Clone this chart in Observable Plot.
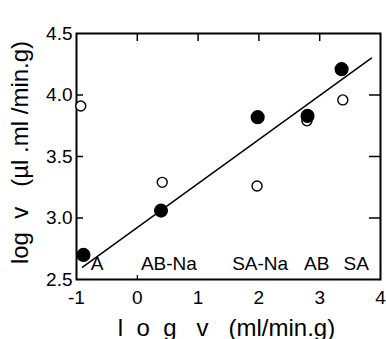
<!DOCTYPE html>
<html>
<head>
<meta charset="utf-8">
<script src="https://cdn.jsdelivr.net/npm/d3@7"></script>
<script src="https://cdn.jsdelivr.net/npm/@observablehq/plot@0.6"></script>
<style>
  body { margin: 0; background: #fff; }
  svg { background: #fff; }
</style>
</head>
<body>
<div id="chart"></div>
<script>
// Filled circles
const filledX = [-0.885, 0.39, 1.98, 2.80, 3.36];
const filledY = [2.70, 3.06, 3.82, 3.83, 4.21];
// Open circles
const openX = [-0.93, 0.41, 1.97, 2.79, 3.38];
const openY = [3.91, 3.29, 3.26, 3.79, 3.96];
// Regression line endpoints
const fitX = [-0.9, 3.85];
const fitY = [2.60, 4.30];
// Compound labels
const compounds = ["A", "AB-Na", "SA-Na", "AB", "SA"];
const compoundX = [-0.66, 0.52, 2.02, 2.95, 3.6];
// Tick labels
const xTicks = [-1, 0, 1, 2, 3, 4];
const yTicks = [2.5, 3.0, 3.5, 4.0, 4.5];
const xLabel = "l\u00a0\u00a0o\u00a0\u00a0g\u00a0\u00a0\u00a0v\u00a0\u00a0\u00a0(ml/min.g)";
const yLabel = "log\u00a0\u00a0v\u00a0\u00a0\u00a0(\u00b5l\u00a0.ml\u00a0/min.g)";

const filled = filledX.map((x, i) => ({x, y: filledY[i]}));
const open = openX.map((x, i) => ({x, y: openY[i]}));
const fit = fitX.map((x, i) => ({x, y: fitY[i]}));
const labels = compounds.map((t, i) => ({t, x: compoundX[i]}));

const W = 386, H = 339, mL = 76, mR = 6, mT = 33, mB = 60;
const pw = W - mL - mR, ph = H - mT - mB;

const chart = Plot.plot({
  width: W, height: H,
  marginLeft: mL, marginRight: mR, marginTop: mT, marginBottom: mB,
  style: {fontFamily: "'Liberation Sans', Arial, sans-serif", color: "#000", background: "#fff"},
  x: {domain: [-1, 4]},
  y: {domain: [2.5, 4.5]},
  marks: [
    Plot.axisX({ticks: xTicks, tickSize: 0, tickPadding: 11, fontSize: 19, label: null, tickFormat: d => d < 0 ? "-" + Math.abs(d) : String(d)}),
    Plot.axisY({ticks: yTicks, tickSize: 0, tickPadding: 4, fontSize: 19, label: null, tickFormat: d => d.toFixed(1)}),
    // inward ticks
    Plot.tickY(yTicks.slice(1, 4), {y: d => d, insetRight: pw - 7, strokeWidth: 1.5}),
    Plot.tickY(yTicks.slice(1, 4), {y: d => d, insetLeft: pw - 11, strokeWidth: 1.5}),
    Plot.tickX(xTicks.slice(1, 5), {x: d => d, insetBottom: ph - 8, strokeWidth: 1.5}),
    Plot.tickX([0], {x: d => d, insetTop: ph - 4, strokeWidth: 1.2}),
    Plot.frame({stroke: "#000", strokeWidth: 2}),
    Plot.line(fit, {x: "x", y: "y", stroke: "#000", strokeWidth: 1.5}),
    Plot.dot(open, {x: "x", y: "y", r: 5, stroke: "#000", strokeWidth: 1.4, fill: "#fff"}),
    Plot.dot(filled, {x: "x", y: "y", r: 6.3, fill: "#000", stroke: "#000"}),
    Plot.text(labels, {x: "x", frameAnchor: "bottom", text: "t", dy: -10, fontSize: 19, fill: "#000"}),
    Plot.text([xLabel], {frameAnchor: "bottom", textAnchor: "middle", text: d => d, dy: 56, dx: -2, fontSize: 24, fill: "#000"}),
    Plot.text([yLabel], {frameAnchor: "left", textAnchor: "middle", lineAnchor: "middle", text: d => d, rotate: -90, dx: -56, dy: -4, fontSize: 24, fill: "#000"})
  ]
});
document.getElementById("chart").appendChild(chart);
</script>
</body>
</html>
